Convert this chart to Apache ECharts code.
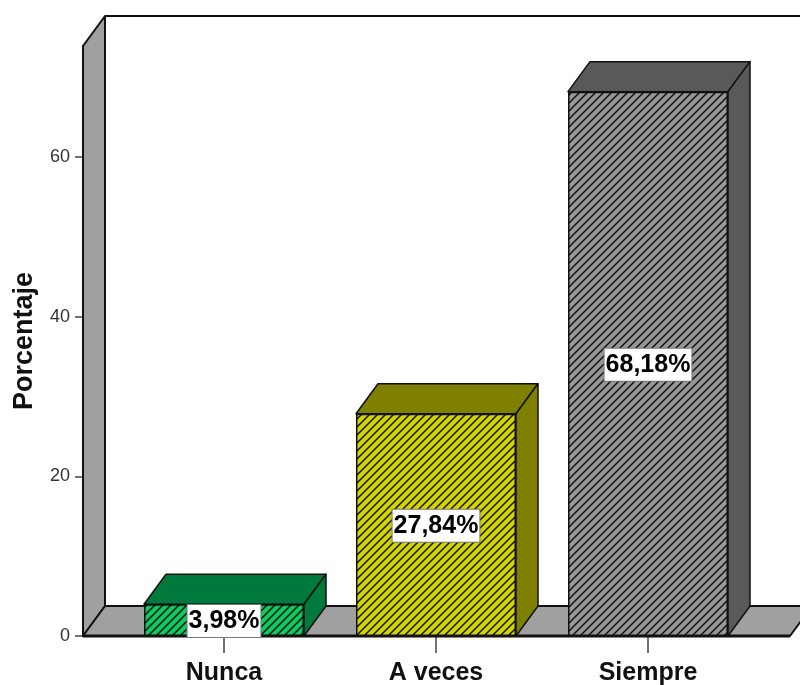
<!DOCTYPE html>
<html>
<head>
<meta charset="utf-8">
<style>html,body{margin:0;padding:0;background:#fff}#c{width:800px;height:685px}</style>
<script src="https://cdn.jsdelivr.net/npm/echarts@6/dist/echarts.min.js"></script>
</head>
<body>
<div id="c"></div>
<script>
const categories = ['Nunca', 'A veces', 'Siempre'];
const percentages = [3.98, 27.84, 68.18];
const valueLabels = ['3,98%', '27,84%', '68,18%'];
const yTicks = [0, 20, 40, 60];
const faceColors = ['#10c860', '#d4d400', '#969696'];
const sideColors = ['#007a3c', '#808000', '#595959'];

const DX = 22, DY = 30, BAR_W = 160, AXIS_OFFSET = 35, RIGHT_EXT = 36;
const WALL = '#a0a0a0', INK = '#111';

function hatch(color) {
  const p = 8, c = document.createElement('canvas');
  c.width = p; c.height = p;
  const g = c.getContext('2d');
  g.fillStyle = color; g.fillRect(0, 0, p, p);
  g.strokeStyle = '#111'; g.lineWidth = 1.5;
  [[-p, p, p, -p], [0, 2 * p, 2 * p, 0], [-p, 2 * p, 2 * p, -p]].forEach(l => {
    g.beginPath(); g.moveTo(l[0], l[1]); g.lineTo(l[2], l[3]); g.stroke();
  });
  return c;
}

function renderFrame(params, api) {
  const cs = params.coordSys;
  const l = cs.x - AXIS_OFFSET, r = cs.x + cs.width + RIGHT_EXT, t = cs.y, b = cs.y + cs.height;
  const stroke = { stroke: INK, lineWidth: 2, lineJoin: 'round' };
  return {
    type: 'group',
    children: [
      { type: 'polygon', shape: { points: [[l, t], [l + DX, t - DY], [l + DX, b - DY], [l, b]] }, style: Object.assign({ fill: WALL }, stroke) },
      { type: 'polygon', shape: { points: [[l, b], [l + DX, b - DY], [r + DX, b - DY], [r, b]] }, style: Object.assign({ fill: WALL }, stroke) },
      { type: 'line', shape: { x1: l + DX, y1: t - DY, x2: r + DX, y2: t - DY }, style: stroke },
      { type: 'line', shape: { x1: l, y1: b, x2: r, y2: b }, style: { stroke: INK, lineWidth: 3 } }
    ]
  };
}

function renderDepth(params, api) {
  const i = api.value(0);
  const top = api.coord([i, api.value(1)]);
  const base = api.coord([i, 0]);
  const x1 = top[0] - BAR_W / 2, x2 = top[0] + BAR_W / 2, y = top[1];
  const style = { fill: sideColors[i], stroke: INK, lineWidth: 1.5, lineJoin: 'round' };
  return {
    type: 'group',
    children: [
      { type: 'polygon', shape: { points: [[x1, y], [x1 + DX, y - DY], [x2 + DX, y - DY], [x2, y]] }, style: style },
      { type: 'polygon', shape: { points: [[x2, y], [x2 + DX, y - DY], [x2 + DX, base[1] - DY], [x2, base[1]]] }, style: style }
    ]
  };
}

const chart = echarts.init(document.getElementById('c'), null, { renderer: 'canvas' });
chart.setOption({
  animation: false,
  backgroundColor: '#fff',
  grid: { left: 118, top: 46, width: 636, height: 590, outerBoundsMode: 'none', containLabel: false },
  xAxis: {
    type: 'category',
    data: categories,
    axisLine: { show: false },
    axisTick: { show: true, alignWithLabel: true, length: 17, lineStyle: { color: '#444', width: 1.5 } },
    axisLabel: { margin: 25, fontFamily: 'Liberation Sans', fontWeight: 'bold', fontSize: 25, color: '#111', interval: 0 }
  },
  yAxis: {
    type: 'value',
    min: 0,
    max: 73.9,
    offset: AXIS_OFFSET,
    name: 'Porcentaje',
    nameLocation: 'middle',
    nameGap: 45,
    nameTextStyle: { fontFamily: 'Liberation Sans', fontWeight: 'bold', fontSize: 27, color: '#111' },
    splitLine: { show: false },
    axisLine: { show: true, lineStyle: { color: INK, width: 2 } },
    axisTick: { show: true, length: 8, customValues: yTicks, lineStyle: { color: '#444', width: 1.5 } },
    axisLabel: { margin: 13, customValues: yTicks, fontFamily: 'Liberation Sans', fontSize: 18, color: '#333' }
  },
  series: [
    { type: 'custom', z: 1, silent: true, renderItem: renderFrame, data: [[0, 0]], encode: { x: 0, y: 1 }, clip: false },
    { type: 'custom', z: 2, silent: true, renderItem: renderDepth, data: percentages.map((v, i) => [i, v]), encode: { x: 0, y: 1 }, clip: false },
    {
      type: 'bar',
      z: 3,
      barWidth: BAR_W,
      data: percentages.map((v, i) => ({
        value: v,
        itemStyle: { color: { image: hatch(faceColors[i]), repeat: 'repeat' }, borderColor: INK, borderWidth: 1.5 },
        label: {
          show: true,
          position: 'inside',
          offset: [0, 1],
          formatter: valueLabels[i],
          fontFamily: 'Liberation Sans',
          fontWeight: 'bold',
          fontSize: 25,
          color: '#000',
          backgroundColor: '#fff',
          borderColor: '#777',
          borderWidth: 1,
          padding: [5, 1, 2, 1]
        }
      }))
    }
  ]
});
</script>
</body>
</html>
